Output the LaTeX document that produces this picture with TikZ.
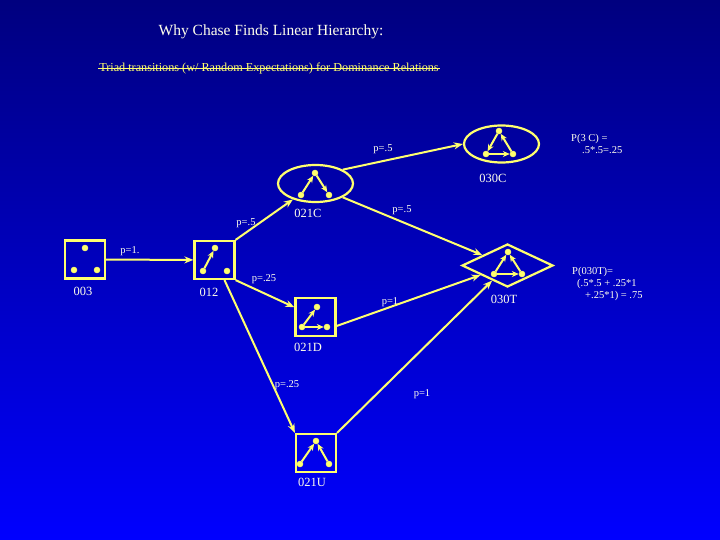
\documentclass[tikz,border=0pt]{standalone}
\usepackage{fontspec}
\setmainfont{Liberation Serif}
\usetikzlibrary{shapes.geometric,arrows.meta}

\definecolor{navytop}{RGB}{0,0,127}
\definecolor{bluebot}{RGB}{0,0,255}
\definecolor{triyel}{RGB}{255,255,110}
\definecolor{labwhite}{RGB}{255,255,235}

\tikzset{
  triad/.style={draw=triyel, line width=2.2pt, inner sep=0pt},
  triadbox/.style={triad, rectangle, minimum width=40pt, minimum height=38pt},
  triadoval/.style={triad, ellipse, minimum width=75pt, minimum height=37pt},
  triadkite/.style={triad, diamond, minimum width=91pt, minimum height=43pt},
  vtx/.style={circle, draw=triyel, fill=triyel, inner sep=0pt, minimum size=6pt},
  dom/.style={draw=triyel, line width=2pt, -{Stealth[length=7pt,width=6pt]}},
  trans/.style={draw=triyel, line width=2pt, -{Stealth[length=9pt,width=7pt]}},
  triname/.style={text=labwhite, font=\fontsize{12.5}{14}\selectfont},
  prob/.style={text=labwhite, font=\fontsize{10.5}{12}\selectfont}
}

\begin{document}
\begin{tikzpicture}[x=1pt, y=-1pt]
    % Background
    \fill[top color=navytop, bottom color=bluebot] (0,0) rectangle (720,540);
    \useasboundingbox (0,0) rectangle (720,540);

    % Titles
    \node[text=labwhite, font=\fontsize{15.5}{17}\selectfont] (title) at (271,32) {Why Chase Finds Linear Hierarchy:};
    \node[text=triyel, font=\fontsize{12.2}{14}\selectfont, anchor=base, inner sep=1pt] (subtitle) at (269,72)
        {Triad transitions (w/ Random Expectations) for Dominance Relations};
    \draw[triyel, line width=1.4pt] ([yshift=3.5pt]subtitle.base west) -- ([yshift=3.5pt]subtitle.base east);

    % Triad frames
    \node[triadbox] (n003) at (85,259.5) {};
    \node[triadbox] (n012) at (214.5,260) {};
    \node[triadoval] (n021C) at (315.5,183.5) {};
    \node[triadoval] (n030C) at (501.5,144) {};
    \node[triadbox] (n021D) at (315.5,317) {};
    \node[triadbox] (n021U) at (316,453) {};
    \node[triadkite] (n030T) at (507.5,265.5) {};

    % Vertices of each triad
    \node[vtx] (a003) at (85,248) {};
    \node[vtx] (b003) at (74,270) {};
    \node[vtx] (c003) at (97,270) {};
    \node[vtx] (a012) at (215,248) {};
    \node[vtx] (b012) at (203,271) {};
    \node[vtx] (c012) at (227,271) {};
    \node[vtx] (a021C) at (315,173) {};
    \node[vtx] (b021C) at (301,195) {};
    \node[vtx] (c021C) at (329,195) {};
    \node[vtx] (a030C) at (499,131) {};
    \node[vtx] (b030C) at (486,154) {};
    \node[vtx] (c030C) at (513,154) {};
    \node[vtx] (a021D) at (317,307) {};
    \node[vtx] (b021D) at (302,327) {};
    \node[vtx] (c021D) at (327,327) {};
    \node[vtx] (a021U) at (316,441) {};
    \node[vtx] (b021U) at (300,464) {};
    \node[vtx] (c021U) at (329,464) {};
    \node[vtx] (a030T) at (508,252) {};
    \node[vtx] (b030T) at (494,274) {};
    \node[vtx] (c030T) at (522,274) {};

    % Dominance arrows inside triads
    \draw[dom] (b012) -- (a012);
    \draw[dom] (b021C) -- (a021C);
    \draw[dom] (a021C) -- (c021C);
    \draw[dom] (a030C) -- (b030C);
    \draw[dom] (b030C) -- (c030C);
    \draw[dom] (c030C) -- (a030C);
    \draw[dom] (b021D) -- (a021D);
    \draw[dom] (b021D) -- (c021D);
    \draw[dom] (b021U) -- (a021U);
    \draw[dom] (c021U) -- (a021U);
    \draw[dom] (b030T) -- (a030T);
    \draw[dom] (c030T) -- (a030T);
    \draw[dom] (b030T) -- (c030T);

    % Triad names
    \node[triname] (l003) at (83,291) {003};
    \node[triname] (l012) at (209,292) {012};
    \node[triname] (l021C) at (308,213) {021C};
    \node[triname] (l030C) at (493,178) {030C};
    \node[triname] (l021D) at (308,347) {021D};
    \node[triname] (l021U) at (312,482) {021U};
    \node[triname] (l030T) at (504,299) {030T};

    % Transitions
    \draw[trans] (n003) -- (n012);
    \draw[trans] (n012.north east) -- (n021C);
    \draw[trans] (n012.south east) -- (n021D);
    \draw[trans] ([xshift=10pt]n012.south) -- (n021U.north west);
    \draw[trans] (n021C.north east) -- (n030C.west);
    \draw[trans] (n021C.south east) -- (n030T);
    \draw[trans] ([yshift=-9pt]n021D.east) -- (n030T);
    \draw[trans] (n021U.north east) -- (n030T);

    % Transition probabilities
    \node[prob] (p1) at (130,251) {p=1.};
    \node[prob] (p2) at (246,223) {p=.5};
    \node[prob] (p3) at (383,149) {p=.5};
    \node[prob] (p4) at (402,210) {p=.5};
    \node[prob] (p5) at (264,279) {p=.25};
    \node[prob] (p6) at (390,302) {p=1};
    \node[prob] (p7) at (287,385) {p=.25};
    \node[prob] (p8) at (422,394) {p=1};

    % Resulting probabilities
    \node[prob, align=left, anchor=north west, inner sep=0pt] (pc) at (571,134)
        {P(3 C) =\\\hspace*{11pt}.5*.5=.25};
    \node[prob, align=left, anchor=north west, inner sep=0pt] (pt) at (572,267)
        {P(030T)=\\\hspace*{5pt}(.5*.5 + .25*1\\\hspace*{13pt}+.25*1) = .75};
\end{tikzpicture}
\end{document}
